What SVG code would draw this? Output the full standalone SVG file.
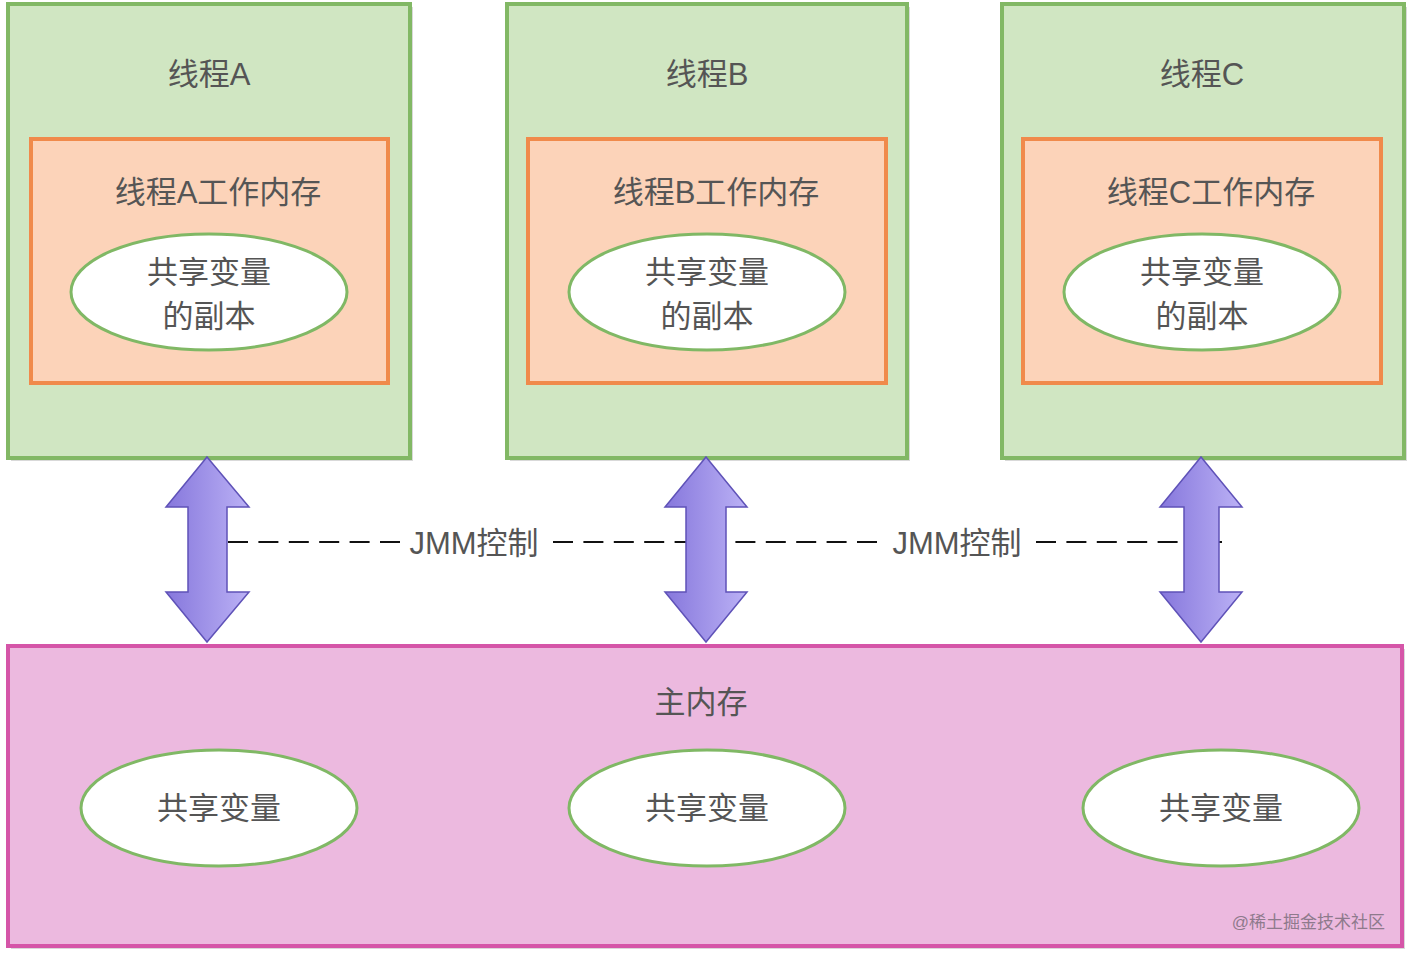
<svg xmlns="http://www.w3.org/2000/svg" width="1410" height="958" viewBox="0 0 1410 958">
<defs>
<linearGradient id="pg" x1="0" y1="0" x2="1" y2="0">
<stop offset="0" stop-color="#8677dc"/>
<stop offset="1" stop-color="#bbb1f5"/>
</linearGradient>
<style>
text{font-family:"Liberation Sans","Noto Sans CJK SC",sans-serif;font-size:31px;fill:#555555;text-anchor:middle}
.shadow{fill:#000;opacity:0.15}
.thread{fill:#d0e6c2;stroke:#82b865;stroke-width:4}
.work{fill:#fcd3b9;stroke:#f08a4b;stroke-width:4}
.ell{fill:#fff;stroke:#80b865;stroke-width:3}
.main{fill:#ecb9df;stroke:#d555a8;stroke-width:4}
.arr{fill:url(#pg);stroke:#5f52b8;stroke-width:1.5}
.dash{stroke:#111;stroke-width:2;stroke-dasharray:20 10.4;fill:none}
.wm{font-size:17px;fill:#8e7a8c;text-anchor:end}
</style>
</defs>
<rect width="1410" height="958" fill="#fff"/>

<g id="threadA">
<rect class="shadow" x="11" y="7" width="402" height="454"/>
<rect class="thread" x="8" y="4" width="402" height="454"/>
<text x="209" y="85">线程A</text>
<rect class="work" x="31" y="139" width="357" height="244"/>
<text x="218" y="203">线程A工作内存</text>
<ellipse class="ell" cx="209" cy="292" rx="138" ry="58"/>
<text x="209" y="283">共享变量</text>
<text x="209" y="327">的副本</text>
</g>

<g id="threadB">
<rect class="shadow" x="510" y="7" width="400" height="454"/>
<rect class="thread" x="507" y="4" width="400" height="454"/>
<text x="707" y="85">线程B</text>
<rect class="work" x="528" y="139" width="358" height="244"/>
<text x="716" y="203">线程B工作内存</text>
<ellipse class="ell" cx="707" cy="292" rx="138" ry="58"/>
<text x="707" y="283">共享变量</text>
<text x="707" y="327">的副本</text>
</g>

<g id="threadC">
<rect class="shadow" x="1005" y="7" width="402" height="454"/>
<rect class="thread" x="1002" y="4" width="402" height="454"/>
<text x="1202" y="85">线程C</text>
<rect class="work" x="1023" y="139" width="358" height="244"/>
<text x="1211" y="203">线程C工作内存</text>
<ellipse class="ell" cx="1202" cy="292" rx="138" ry="58"/>
<text x="1202" y="283">共享变量</text>
<text x="1202" y="327">的副本</text>
</g>

<g id="mainMemory">
<rect class="shadow" x="11" y="649" width="1394" height="300"/>
<rect class="main" x="8" y="646" width="1394" height="300"/>
<text x="701" y="713">主内存</text>
<ellipse class="ell" cx="219" cy="808" rx="138" ry="58"/>
<text x="219" y="819">共享变量</text>
<ellipse class="ell" cx="707" cy="808" rx="138" ry="58"/>
<text x="707" y="819">共享变量</text>
<ellipse class="ell" cx="1221" cy="808" rx="138" ry="58"/>
<text x="1221" y="819">共享变量</text>
<text class="wm" x="1385" y="928">@稀土掘金技术社区</text>
</g>

<g id="connectors">
<line class="dash" x1="228" y1="542" x2="400" y2="542"/>
<line class="dash" x1="553" y1="542" x2="880" y2="542"/>
<line class="dash" x1="1036" y1="542" x2="1222" y2="542"/>
<text x="474" y="554">JMM控制</text>
<text x="957" y="554">JMM控制</text>
<path class="arr" d="M207,457 L249,507 L227,507 L227,592 L249,592 L207,642 L166,592 L188,592 L188,507 L166,507 Z"/>
<path class="arr" d="M706,457 L747,507 L726,507 L726,592 L747,592 L706,642 L665,592 L686,592 L686,507 L665,507 Z"/>
<path class="arr" d="M1201,457 L1242,507 L1219,507 L1219,592 L1242,592 L1201,642 L1160,592 L1184,592 L1184,507 L1160,507 Z"/>
</g>
</svg>
